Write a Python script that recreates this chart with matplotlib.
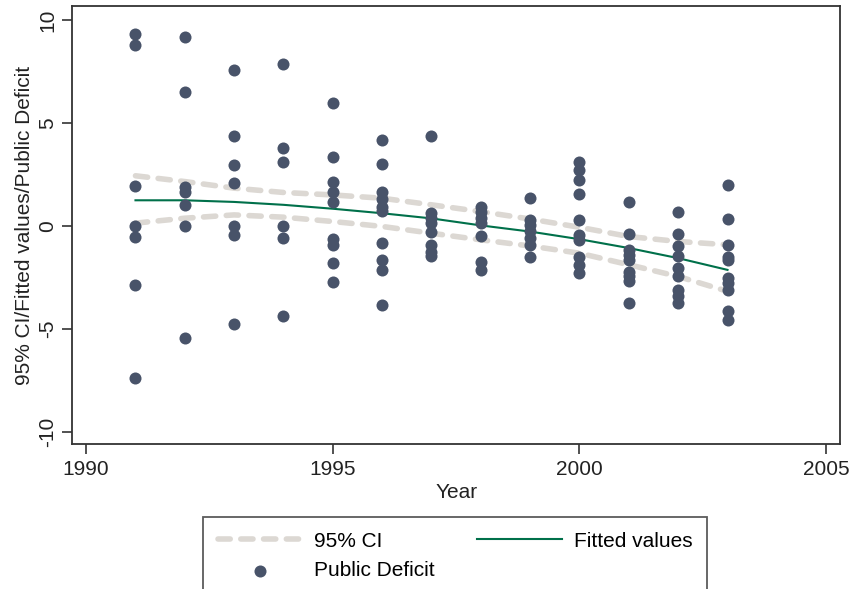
import numpy as np
import matplotlib
matplotlib.use('Agg')
import matplotlib.pyplot as plt

plt.rcParams['font.family'] = ['Liberation Sans', 'DejaVu Sans']

# public deficit observations, one list per year
deficit_by_year = {
    1991: [9.3, 8.78, 1.91, 0.0, -0.52, -2.88, -7.37],
    1992: [9.19, 6.52, 1.9, 1.65, 1.02, 0.01, -5.45],
    1993: [7.57, 4.34, 2.93, 2.07, 0.0, -0.44, -4.77],
    1994: [7.86, 3.77, 3.09, 0.0, -0.6, -4.4],
    1995: [5.96, 3.35, 2.15, 1.62, 1.17, -0.65, -0.94, -1.8, -2.73],
    1996: [4.16, 3.02, 1.62, 1.3, 0.9, 0.7, -0.84, -1.65, -2.14, -3.83],
    1997: [4.38, 0.62, 0.37, 0.13, -0.31, -0.92, -1.25, -1.45],
    1998: [0.89, 0.65, 0.4, 0.16, -0.49, -1.78, -2.14],
    1999: [1.35, 0.3, 0.05, -0.25, -0.6, -0.95, -1.52],
    2000: [3.12, 2.72, 2.23, 1.55, 0.29, -0.44, -0.68, -1.49, -1.89, -2.3],
    2001: [1.17, -0.4, -1.17, -1.41, -1.65, -2.22, -2.45, -2.7, -3.75],
    2002: [0.65, -0.4, -0.97, -1.46, -2.06, -2.46, -3.1, -3.43, -3.75],
    2003: [1.99, 0.34, -0.92, -1.49, -1.65, -2.54, -2.78, -3.1, -4.16, -4.56],
}

fit_years = [1991, 1992, 1993, 1994, 1995, 1996, 1997, 1998, 1999, 2000, 2001, 2002, 2003]
fitted = [1.24, 1.24, 1.16, 1.02, 0.83, 0.61, 0.36, 0.02, -0.28, -0.65, -1.08, -1.57, -2.14]
ci_upper = [2.43, 2.15, 1.83, 1.62, 1.5, 1.34, 1.02, 0.69, 0.33, -0.07, -0.52, -0.76, -0.92]
ci_lower = [0.13, 0.37, 0.53, 0.42, 0.21, -0.03, -0.36, -0.68, -0.98, -1.33, -1.89, -2.46, -3.18]

x_ticks = [1990, 1995, 2000, 2005]
y_ticks = [-10, -5, 0, 5, 10]

pts_x = [yr for yr, vals in deficit_by_year.items() for _ in vals]
pts_y = [v for vals in deficit_by_year.values() for v in vals]

fs = 15
txt = '#222222'
edge = '#333333'

fig = plt.figure(figsize=(8.52, 5.89), dpi=100)
ax = fig.add_axes([0.0849, 0.2457, 0.901, 0.7446])

dash_kw = dict(color='#dcd8d3', lw=4, dash_capstyle='round', solid_capstyle='round')
l_ci, = ax.plot(fit_years, ci_upper, dashes=(2.2, 1.9), **dash_kw)
ax.plot(fit_years, ci_lower, dashes=(2.2, 1.9), **dash_kw)
l_fit, = ax.plot(fit_years, fitted, color='#00704a', lw=1.5)
sc = ax.scatter(pts_x, pts_y, s=75, color='#485369', zorder=3, linewidths=0)

ax.set_xlim(1989.72, 2005.28)
ax.set_ylim(-10.61, 10.69)
ax.set_xticks(x_ticks)
ax.set_yticks(y_ticks)
ax.set_yticklabels([str(t) for t in y_ticks], rotation=90, va='center')
ax.tick_params(labelsize=fs, colors=edge, length=7, width=1.2, labelcolor=txt, pad=4)
for s in ax.spines.values():
    s.set_color(edge)
    s.set_linewidth(1.3)
ax.set_xlabel('Year', fontsize=fs, color=txt, labelpad=3)
ax.set_ylabel('95% CI/Fitted values/Public Deficit', fontsize=fs, color=txt, labelpad=3)

leg = fig.legend([l_ci, sc, l_fit], ['95% CI', 'Public Deficit', 'Fitted values'],
                 ncol=2, loc='upper left', bbox_to_anchor=(203 / 852, 1 - 517 / 589),
                 fontsize=fs, frameon=True, fancybox=False, handlelength=4.1,
                 columnspacing=2.0, handletextpad=0.55, borderpad=0.7, labelspacing=0.5,
                 borderaxespad=0, scatterpoints=1)
leg.get_frame().set_edgecolor(edge)
leg.get_frame().set_linewidth(1.3)

fig.savefig('out.png', dpi=100)
